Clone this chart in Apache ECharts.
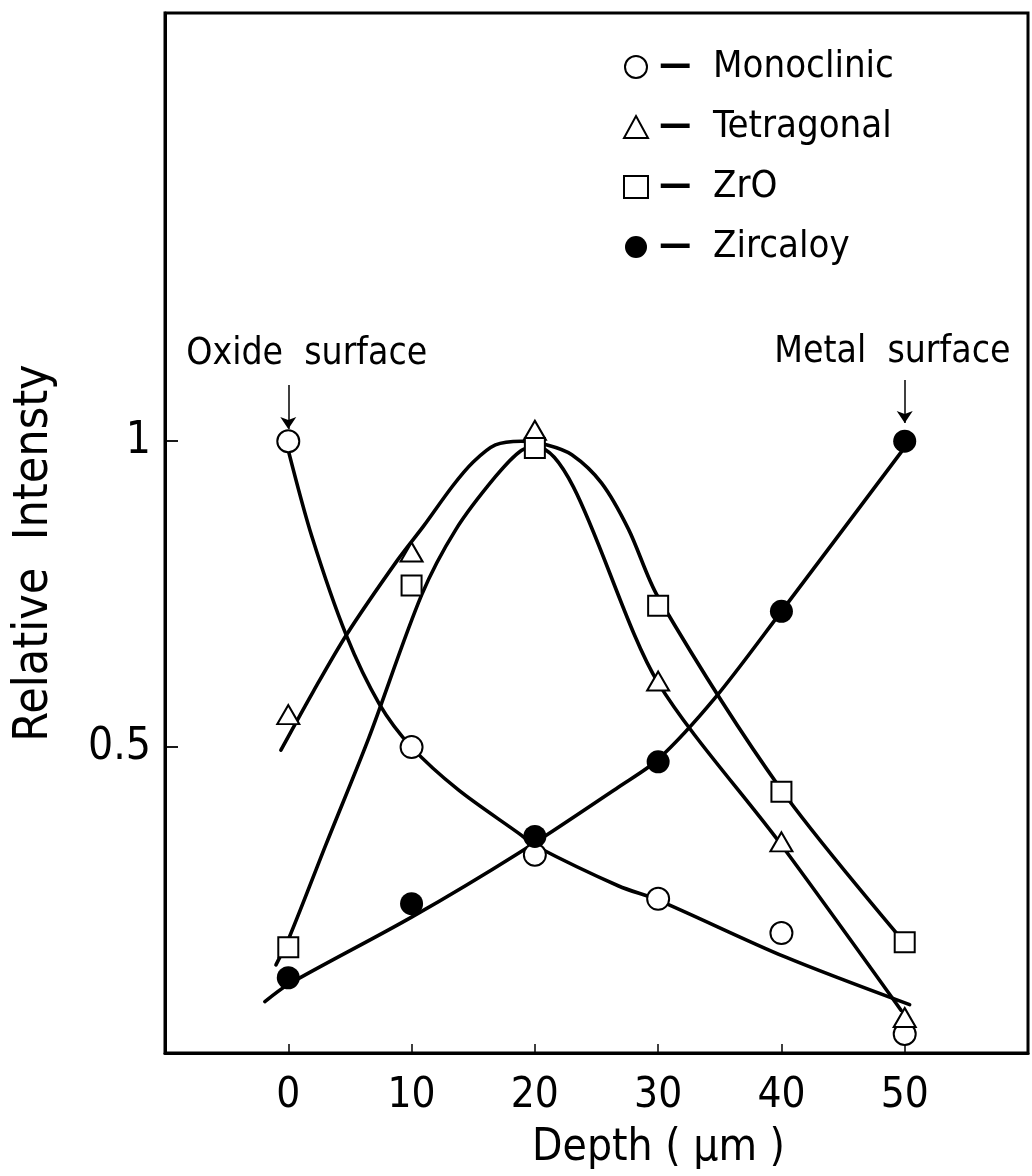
<!DOCTYPE html>
<html>
<head>
<meta charset="utf-8">
<title>Relative Intensty vs Depth</title>
<script src="https://cdn.jsdelivr.net/npm/echarts@6/dist/echarts.min.js"></script>
<style>
  html, body { margin: 0; padding: 0; background: #fff; }
  #chart { width: 1032px; height: 1176px; }
</style>
</head>
<body>
<div id="chart"></div>
<script>
// Measured points: depth (µm) and relative intensity of each phase
const depth = [0, 10, 20, 30, 40, 50];
const monoclinic = [1.0, 0.5, 0.324, 0.252, 0.196, 0.031];
const tetragonal = [0.553, 0.819, 1.018, 0.608, 0.345, 0.058];
const zro = [0.173, 0.764, 0.989, 0.731, 0.427, 0.181];
const zircaloy = [0.123, 0.244, 0.354, 0.476, 0.722, 1.0];

// Hand-drawn trend curves, as [depth, intensity] pairs
const curveMonoclinic = [[0, 0.985], [1.9, 0.845], [4.7, 0.683], [7.4, 0.57], [10, 0.5],
  [13.8, 0.43], [18.7, 0.359], [20.1, 0.338], [26.8, 0.273], [30, 0.25], [40.3, 0.157], [50.4, 0.079]];
const curveUpper = [[-0.6, 0.495], [2, 0.59], [4.7, 0.683], [8.8, 0.804], [11, 0.862],
  [13.3, 0.926], [15, 0.966], [16.8, 0.994], [18.9, 1.0], [21, 0.994], [23, 0.978],
  [25.4, 0.932], [27.6, 0.856], [30, 0.745], [40, 0.43], [50, 0.18]];
const curveLower = [[-1, 0.144], [0.1, 0.19], [3.1, 0.343], [6.55, 0.516], [10.8, 0.748],
  [13.6, 0.856], [16.8, 0.942], [18.9, 0.985], [20.2, 0.99], [30, 0.605], [40, 0.34], [49.7, 0.07]];
const curveZircaloy = [[-1.9, 0.084], [0, 0.112], [10, 0.222], [18.7, 0.327], [26.8, 0.435],
  [30, 0.48], [34.6, 0.58], [40, 0.722], [50, 0.99]];

const xTickValues = [0, 10, 20, 30, 40, 50];
const yTickValues = [0.5, 1];
const seriesNames = ['Monoclinic', 'Tetragonal', 'ZrO', 'Zircaloy'];

const FONT = "'Liberation Sans Narrow', 'DejaVu Sans Condensed', 'Liberation Sans', sans-serif";
const INK = '#000';

const pairs = ys => depth.map((d, i) => [d, ys[i]]);

function markerSeries(name, symbol, size, filled, ys) {
  return {
    name: name,
    type: 'scatter',
    symbol: symbol,
    symbolSize: size,
    z: 5,
    itemStyle: { color: filled ? INK : '#fff', borderColor: INK, borderWidth: filled ? 0 : 2, opacity: 1 },
    data: pairs(ys)
  };
}

function curveSeries(pts) {
  return {
    type: 'line',
    data: pts,
    smooth: 0.3,
    showSymbol: false,
    symbol: 'none',
    silent: true,
    z: 3,
    lineStyle: { color: INK, width: 3.6, cap: 'round', opacity: 1 }
  };
}

const chart = echarts.init(document.getElementById('chart'), null, { renderer: 'canvas' });

chart.setOption({
  animation: false,
  backgroundColor: '#fff',
  grid: {
    left: 165, right: 4, top: 13, bottom: 121,
    show: true, borderColor: INK, borderWidth: 3, backgroundColor: 'transparent'
  },
  legend: {
    data: seriesNames,
    orient: 'vertical',
    left: 618,
    top: 43,
    itemWidth: 24,
    itemHeight: 22,
    itemGap: 22,
    selectedMode: false,
    formatter: name => '{d|—}  ' + name,
    textStyle: {
      color: INK, fontFamily: FONT, fontSize: 38, padding: [0, 0, 0, 6],
      rich: { d: { fontSize: 36, fontWeight: 'bold', color: INK, fontFamily: FONT } }
    }
  },
  xAxis: {
    type: 'value',
    min: -10, max: 60, interval: 10,
    name: 'Depth ( μm )',
    nameLocation: 'middle',
    nameGap: 74,
    nameTextStyle: { color: INK, fontFamily: FONT, fontSize: 44, padding: [0, 0, 0, 124] },
    axisLine: { show: true, onZero: false, lineStyle: { color: INK, width: 3 } },
    axisTick: { show: true, inside: true, length: 9, customValues: xTickValues, lineStyle: { color: INK, width: 1.5 } },
    axisLabel: { customValues: xTickValues, margin: 22, color: INK, fontFamily: FONT, fontSize: 42 },
    splitLine: { show: false }
  },
  yAxis: {
    type: 'value',
    min: 0, max: 1.7, interval: 0.5,
    name: 'Relative  Intensty',
    nameLocation: 'middle',
    nameGap: 106,
    nameRotate: 90,
    nameTextStyle: { color: INK, fontFamily: FONT, fontSize: 48, padding: [0, 40, 0, 0] },
    axisLine: { show: true, onZero: false, lineStyle: { color: INK, width: 3 } },
    axisTick: { show: true, inside: true, length: 13, customValues: yTickValues, lineStyle: { color: INK, width: 1.8 } },
    axisLabel: {
      customValues: yTickValues, margin: 14, color: INK, fontFamily: FONT, fontSize: 44,
      formatter: v => (v === 1 ? '1' : String(v))
    },
    splitLine: { show: false }
  },
  series: [
    curveSeries(curveMonoclinic),
    curveSeries(curveUpper),
    curveSeries(curveLower),
    curveSeries(curveZircaloy),
    markerSeries('Monoclinic', 'circle', 22, false, monoclinic),
    markerSeries('Tetragonal', 'triangle', [22, 19], false, tetragonal),
    markerSeries('ZrO', 'rect', 20, false, zro),
    markerSeries('Zircaloy', 'circle', 23, true, zircaloy),
    {
      // surface annotations with their arrows
      type: 'scatter',
      data: [],
      silent: true,
      markLine: {
        silent: true,
        symbol: ['none', 'arrow'],
        symbolSize: 12,
        label: { show: false },
        lineStyle: { color: INK, width: 1.5, type: 'solid', opacity: 1 },
        data: [
          [{ coord: [0, 1.092] }, { coord: [0, 1.02] }],
          [{ coord: [50, 1.1] }, { coord: [50, 1.03] }]
        ]
      },
      markPoint: {
        silent: true,
        symbol: 'circle',
        symbolSize: 0,
        label: { show: true, position: 'inside', color: INK, fontFamily: FONT, fontSize: 37 },
        data: [
          { coord: [1.5, 1.142], value: 'Oxide surface', label: { formatter: 'Oxide  surface' } },
          { coord: [49.0, 1.146], value: 'Metal surface', label: { formatter: 'Metal  surface' } }
        ]
      }
    }
  ]
});
</script>
</body>
</html>
